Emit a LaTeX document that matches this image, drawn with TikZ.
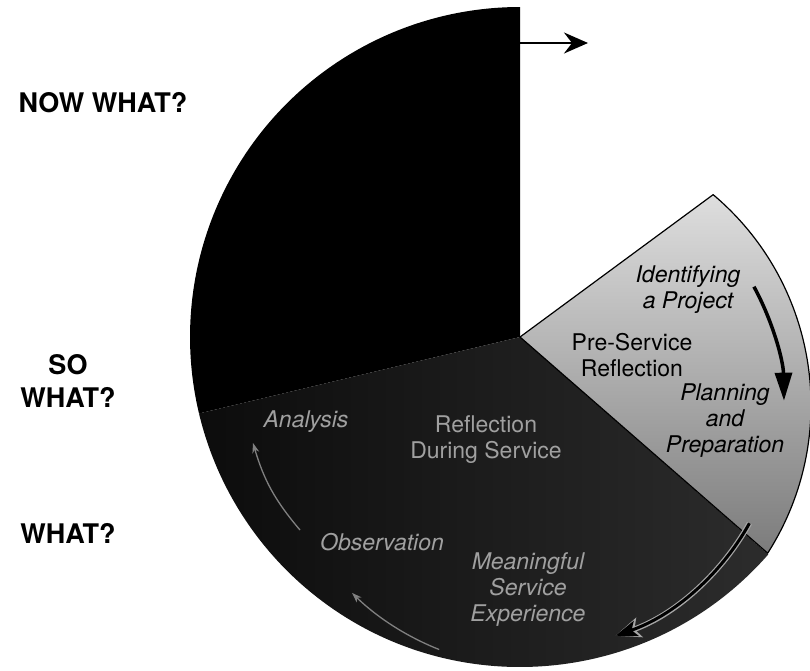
\documentclass[tikz,border=0pt]{standalone}
\usepackage{fontspec}
\setmainfont{TeX Gyre Heros}
\usetikzlibrary{arrows.meta,calc}
\definecolor{paletop}{HTML}{DEDEDE}
\definecolor{palebottom}{HTML}{7C7C7C}
\definecolor{deepleft}{HTML}{0C0C0C}
\definecolor{deepright}{HTML}{2C2C2C}
\definecolor{ghostgray}{HTML}{A0A0A0}
\definecolor{trailgray}{HTML}{808080}
\begin{document}
\begin{tikzpicture}[x=1pt,y=1pt,
  question/.style={font=\fontsize{27}{33}\selectfont\bfseries, align=center, inner sep=0pt},
  stage/.style={font=\fontsize{23}{26}\selectfont\itshape, align=center, inner sep=0pt},
  phase/.style={font=\fontsize{23}{26}\selectfont, align=center, inner sep=0pt},
  ghost/.style={text=ghostgray},
  trail/.style={draw=trailgray, line width=1.3pt, -{Stealth[length=10pt,width=7pt]}},
]
\useasboundingbox (0,0) rectangle (810,-670);

% centre of the wheel and centre of the inner loop of arrows
\coordinate (C) at (520,-337);
\coordinate (O) at (536,-405);
\coordinate (A) at ($(O)+(49.9:275)$);

% "now what" quarter
\fill[black] (C) -- ++(90:330) arc[start angle=90, end angle=193.4, radius=330] -- cycle;

% "what" segment
\shade[left color=deepleft, right color=deepright]
  (C) -- ++(-41.2:330) arc[start angle=-41.2, end angle=-166.6, radius=330] -- cycle;

% pre-service segment
\shadedraw[top color=paletop, bottom color=palebottom, draw=black, line width=1.2pt, line join=round]
  (C) -- (A) arc[start angle=49.9, end angle=-32.6, radius=275] -- cycle;

% questions on the left
\node[question] (now) at (103,-103) {NOW WHAT?};
\node[question] (so)  at (68,-381) {SO\\WHAT?};
\node[question] (what) at (68,-533) {WHAT?};

% arrow leaving the wheel
\coordinate (exitfrom) at (520,-43);
\coordinate (exitto) at (588,-43);
\draw[line width=2pt, -{Stealth[length=24pt, width=21pt, inset=8pt]}] (exitfrom) -- (exitto);

% labels of the pre-service segment
\node[stage] (ident) at (688,-290) {Identifying\\a Project};
\node[phase] (pre)   at (632,-355) {Pre-Service\\Reflection};
\node[stage] (plan)  at (725,-421) {Planning\\and\\Preparation};

% labels of the service segment
\node[phase, ghost] (during) at (486,-440) {Reflection\\During Service};
\node[stage, ghost] (analysis) at (306,-422) {Analysis};
\node[stage, ghost] (obs) at (382,-542) {Observation};
\node[stage, ghost] (exp) at (528,-590) {Meaningful\\Service\\Experience};

% cycle arrows
\coordinate (c1s) at ($(O)+(28.5:248)$);
\draw[line width=3.5pt, -{Triangle[length=28pt, width=17pt]}]
  (c1s) arc[start angle=28.5, end angle=1, radius=248];

\coordinate (c2s) at ($(O)+(-29:244)$);
\draw[line width=3pt, -{Stealth[length=22pt, width=16pt, inset=5pt]},
      preaction={draw=gray!70, line width=5.5pt, -{Stealth[length=25pt, width=20pt, inset=5pt]}}]
  (c2s) arc[start angle=-29, end angle=-71, radius=244];

\coordinate (c3s) at ($(O)+(-111.6:263)$);
\draw[trail] (c3s) arc[start angle=-111.6, end angle=-134.4, radius=263];

\coordinate (c4s) at (300,-530);
\coordinate (c4e) at (253,-443);
\draw[trail] (c4s) to[bend left=12] (c4e);
\end{tikzpicture}
\end{document}
